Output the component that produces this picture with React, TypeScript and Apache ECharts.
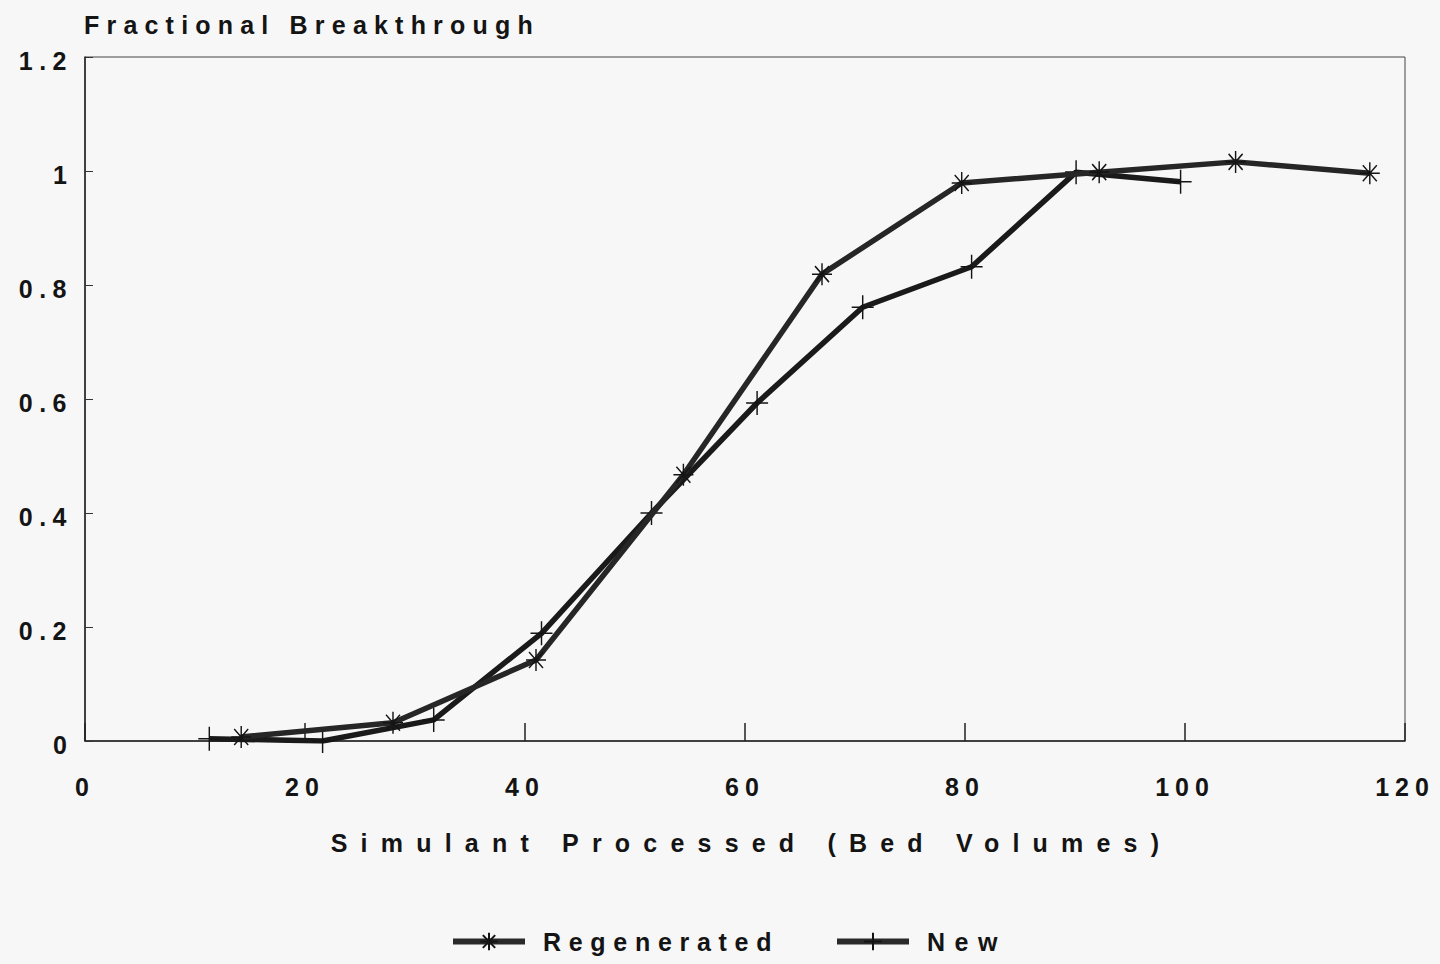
import React, { useEffect, useRef } from "react";
import * as echarts from "echarts";

const regenX = [14.2, 28, 41, 54.4, 67, 79.7, 92.2, 104.6, 116.8];
const regenY = [0.007, 0.032, 0.142, 0.467, 0.819, 0.979, 0.998, 1.016, 0.996];
const newX = [11.3, 21.6, 31.7, 41.5, 51.5, 61.1, 70.7, 80.6, 90.1, 99.6];
const newY = [0.004, 0.0, 0.037, 0.189, 0.4, 0.593, 0.761, 0.832, 0.998, 0.981];

const seriesNames = ["Regenerated", "New"];
const yTitle = "Fractional Breakthrough";
const xTitle = "Simulant Processed (Bed Volumes)";

const ASTERISK = "path://M0,-11L0,11M-10,0L10,0M-7,-8L7,8M-7,8L7,-8";
const PLUS = "path://M0,-12L0,12M-11,0L11,0";

const FONT = "'Liberation Sans', Arial, sans-serif";
const INK = "#141414";

const spacingFor = (s: string): number | null => {
  if (s === yTitle) return 7.2;
  if (s === xTitle) return 13.2;
  if (s === seriesNames[0]) return 7.7;
  if (s === seriesNames[1]) return 9.5;
  if (/^[0-9]+$/.test(s)) return 6;
  if (/^[0-9.]+$/.test(s)) return 6.5;
  return null;
};

export default function App() {
  const ref = useRef<HTMLDivElement>(null);
  useEffect(() => {
    if (!ref.current) return;
    const chart = echarts.init(ref.current, undefined, { renderer: "svg" });
    const toPairs = (xs: number[], ys: number[]) => xs.map((x, i) => [x, ys[i]]);
    const legendBase = {
      top: 929,
      padding: 0,
      itemWidth: 72,
      itemHeight: 22,
      selectedMode: false,
      lineStyle: { width: 6, color: "#2a2a2a" },
      textStyle: { fontFamily: FONT, fontSize: 25, fontWeight: "bold", color: INK, padding: [3, 0, 0, 13] },
    };
    chart.setOption({
      animation: false,
      backgroundColor: "#f7f7f7",
      title: {
        text: yTitle,
        left: 84,
        top: 12,
        padding: 0,
        textStyle: { fontFamily: FONT, fontSize: 25, fontWeight: "bold", color: INK },
      },
      legend: [
        { ...legendBase, data: [seriesNames[0]], left: 450 },
        { ...legendBase, data: [seriesNames[1]], left: 834 },
      ],
      grid: {
        left: 85,
        right: 35,
        top: 57,
        bottom: 964 - 741,
        show: true,
        borderColor: "#444",
        borderWidth: 1,
        backgroundColor: "transparent",
      },
      xAxis: {
        type: "value",
        min: 0,
        max: 120,
        interval: 20,
        name: xTitle,
        nameLocation: "middle",
        nameGap: 89,
        nameTextStyle: { fontFamily: FONT, fontSize: 25, fontWeight: "bold", color: INK, padding: [0, 0, 0, 13] },
        axisLine: { show: true, onZero: false, lineStyle: { color: "#222", width: 1.5 } },
        axisTick: { show: true, inside: true, length: 18, lineStyle: { color: "#222", width: 1.5 } },
        axisLabel: { fontFamily: FONT, fontSize: 25, fontWeight: "bold", color: INK, margin: 33 },
        splitLine: { show: false },
      },
      yAxis: {
        type: "value",
        min: 0,
        max: 1.2,
        interval: 0.2,
        axisLine: { show: true, onZero: false, lineStyle: { color: "#222", width: 1.5 } },
        axisTick: { show: true, inside: true, length: 8, lineStyle: { color: "#333", width: 1 } },
        axisLabel: {
          margin: 12,
          formatter: "{v|{value}}",
          rich: {
            v: { fontFamily: FONT, fontSize: 25, fontWeight: "bold", color: INK, padding: [8, 0, 0, 0] },
          },
        },
        splitLine: { show: false },
      },
      series: [
        {
          name: seriesNames[0],
          type: "line",
          data: toPairs(regenX, regenY),
          symbol: ASTERISK,
          symbolSize: [20, 22],
          showAllSymbol: true,
          lineStyle: { color: "#262626", width: 5.5 },
          itemStyle: { color: INK, borderColor: INK, borderWidth: 1.5 },
          emphasis: { disabled: true },
          z: 3,
        },
        {
          name: seriesNames[1],
          type: "line",
          data: toPairs(newX, newY),
          symbol: PLUS,
          symbolSize: [22, 24],
          showAllSymbol: true,
          lineStyle: { color: "#1a1a1a", width: 5.5 },
          itemStyle: { color: INK, borderColor: INK, borderWidth: 1.5 },
          emphasis: { disabled: true },
          z: 2,
        },
      ],
    });
    const applySpacing = () => {
      const el = ref.current;
      if (!el) return;
      el.querySelectorAll("text").forEach((t) => {
        const sp = spacingFor((t.textContent || "").trim());
        if (sp !== null) t.setAttribute("letter-spacing", String(sp));
      });
    };
    applySpacing();
    chart.on("finished", applySpacing);
    const id = requestAnimationFrame(applySpacing);
    const to = setTimeout(applySpacing, 50);
    return () => {
      cancelAnimationFrame(id);
      clearTimeout(to);
      chart.dispose();
    };
  }, []);
  return (
    <div
      ref={ref}
      style={{ position: "fixed", left: 0, top: 0, width: 1440, height: 964 }}
    />
  );
}
